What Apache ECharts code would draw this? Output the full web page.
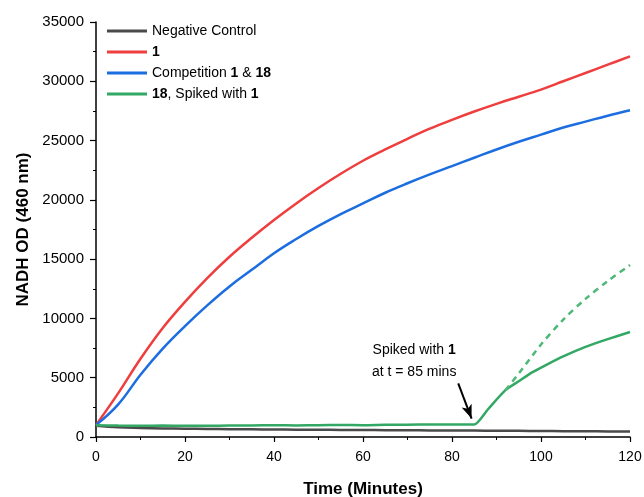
<!DOCTYPE html>
<html>
<head>
<meta charset="utf-8">
<script src="https://cdn.jsdelivr.net/npm/echarts@6/dist/echarts.min.js"></script>
<style>
  html, body { margin: 0; padding: 0; background: #fff; }
  #chart { width: 644px; height: 497px; }
</style>
</head>
<body>
<div id="chart"></div>
<script>
// time points (minutes)
const times = [0, 5, 10, 15, 20, 25, 30, 35, 40, 45, 50, 55, 60, 65, 70, 75, 80, 85, 90, 95, 100, 105, 110, 115, 120];
const negControl = [950, 820, 760, 720, 700, 680, 660, 650, 630, 620, 610, 600, 590, 575, 565, 555, 545, 540, 530, 520, 505, 495, 480, 470, 455];
const cmpd1 = [1000, 3700, 6600, 9200, 11400, 13400, 15200, 16800, 18300, 19700, 21000, 22200, 23300, 24250, 25150, 26000, 26750, 27450, 28100, 28700, 29300, 30000, 30700, 31400, 32100];
const competition = [1000, 2750, 5250, 7450, 9350, 11100, 12700, 14100, 15500, 16700, 17800, 18800, 19700, 20600, 21400, 22150, 22850, 23550, 24250, 24900, 25500, 26100, 26600, 27100, 27550];

// 18, spiked with 1 at t = 85
const spikedT = [0, 5, 10, 15, 20, 25, 30, 35, 40, 45, 50, 55, 60, 65, 70, 75, 80, 85, 88, 92, 95, 98, 101, 105, 110, 115, 120];
const spikedV = [1000, 960, 950, 960, 940, 950, 960, 970, 990, 980, 1000, 1010, 1000, 1030, 1040, 1050, 1060, 1050, 2300, 3950, 4700, 5450, 6050, 6800, 7600, 8250, 8850];
// dashed projection after spike
const projT = [92, 95, 100, 105, 110, 115, 120];
const projV = [3950, 5350, 7800, 9900, 11650, 13150, 14500];

const yTicks = { min: 0, max: 35000, interval: 5000 };
const xTicks = { min: 0, max: 120, interval: 20 };

function pairs(t, v) { return t.map((x, i) => [x, v[i]]); }

const FONT = 'Liberation Sans, Arial, sans-serif';
const chart = echarts.init(document.getElementById('chart'));

const legendText = {
  'Negative Control': 'Negative Control',
  '1': '{b|1}',
  'Competition 1 & 18': 'Competition {b|1} & {b|18}',
  '18, Spiked with 1': '{b|18}, Spiked with {b|1}'
};

chart.setOption({
  animation: false,
  textStyle: { fontFamily: FONT },
  grid: { left: 96, right: 14, top: 22, bottom: 60, outerBoundsMode: 'none', containLabel: false },
  legend: {
    orient: 'vertical',
    left: 102,
    top: 18,
    icon: 'rect',
    itemWidth: 40,
    itemHeight: 3,
    itemGap: 5,
    data: ['Negative Control', '1', 'Competition 1 & 18', '18, Spiked with 1'],
    formatter: name => legendText[name],
    textStyle: {
      fontSize: 14, color: '#000', fontFamily: FONT, lineHeight: 16,
      rich: { b: { fontWeight: 'bold', fontSize: 14, color: '#000', fontFamily: FONT, lineHeight: 16 } }
    }
  },
  xAxis: {
    type: 'value',
    min: xTicks.min, max: xTicks.max, interval: xTicks.interval,
    name: 'Time (Minutes)',
    nameLocation: 'middle',
    nameGap: 44,
    nameTextStyle: { fontSize: 17, fontWeight: 'bold', color: '#000', fontFamily: FONT },
    axisLine: { lineStyle: { color: '#000', width: 1.5 } },
    axisTick: { length: 5, lineStyle: { color: '#000', width: 1.2 } },
    minorTick: { show: true, splitNumber: 2, length: 3, lineStyle: { color: '#000', width: 1 } },
    axisLabel: { fontSize: 14, color: '#000', margin: 13 },
    splitLine: { show: false }
  },
  yAxis: {
    type: 'value',
    min: yTicks.min, max: yTicks.max, interval: yTicks.interval,
    name: 'NADH OD (460 nm)',
    nameLocation: 'middle',
    nameGap: 64,
    nameTextStyle: { fontSize: 17, fontWeight: 'bold', color: '#000', fontFamily: FONT },
    axisLine: { show: true, lineStyle: { color: '#000', width: 1.5 } },
    axisTick: { show: true, length: 6, lineStyle: { color: '#000', width: 1.2 } },
    minorTick: { show: true, splitNumber: 2, length: 3, lineStyle: { color: '#000', width: 1 } },
    axisLabel: { fontSize: 15, color: '#000', margin: 12, formatter: v => String(v) },
    splitLine: { show: false }
  },
  series: [
    {
      name: 'Negative Control', type: 'line', symbol: 'none', smooth: 0.4,
      data: pairs(times, negControl),
      lineStyle: { color: '#4a4a4a', width: 2.5 }, itemStyle: { color: '#4a4a4a' }
    },
    {
      name: '1', type: 'line', symbol: 'none', smooth: 0.4,
      data: pairs(times, cmpd1),
      lineStyle: { color: '#EE3E3E', width: 2.5 }, itemStyle: { color: '#EE3E3E' }
    },
    {
      name: 'Competition 1 & 18', type: 'line', symbol: 'none', smooth: 0.4,
      data: pairs(times, competition),
      lineStyle: { color: '#1C6EE0', width: 2.5 }, itemStyle: { color: '#1C6EE0' }
    },
    {
      name: '18, Spiked with 1', type: 'line', symbol: 'none', smooth: 0.2,
      data: pairs(spikedT, spikedV),
      lineStyle: { color: '#33A864', width: 2.5 }, itemStyle: { color: '#33A864' },
      markLine: {
        silent: true,
        symbol: ['none', 'arrow'],
        symbolSize: [8, 14],
        label: { show: false },
        lineStyle: { color: '#000', width: 2, type: 'solid' },
        data: [[{ coord: [81.4, 4530] }, { coord: [84.4, 1550] }]]
      },
      markPoint: {
        silent: true,
        symbol: 'rect',
        symbolSize: 0,
        data: [{ coord: [71.5, 6400] }],
        label: {
          show: true, position: 'inside',
          formatter: 'Spiked with {b|1}\nat t = 85 mins',
          fontSize: 14, color: '#000', lineHeight: 22, fontFamily: FONT,
          rich: { b: { fontWeight: 'bold', fontSize: 14, color: '#000', lineHeight: 22, fontFamily: FONT } }
        }
      }
    },
    {
      name: 'projection', type: 'line', symbol: 'none', smooth: 0.3,
      data: pairs(projT, projV),
      lineStyle: { color: '#4DB877', width: 2.5, type: [6, 5] }, itemStyle: { color: '#4DB877' }
    }
  ]
});
</script>
</body>
</html>
